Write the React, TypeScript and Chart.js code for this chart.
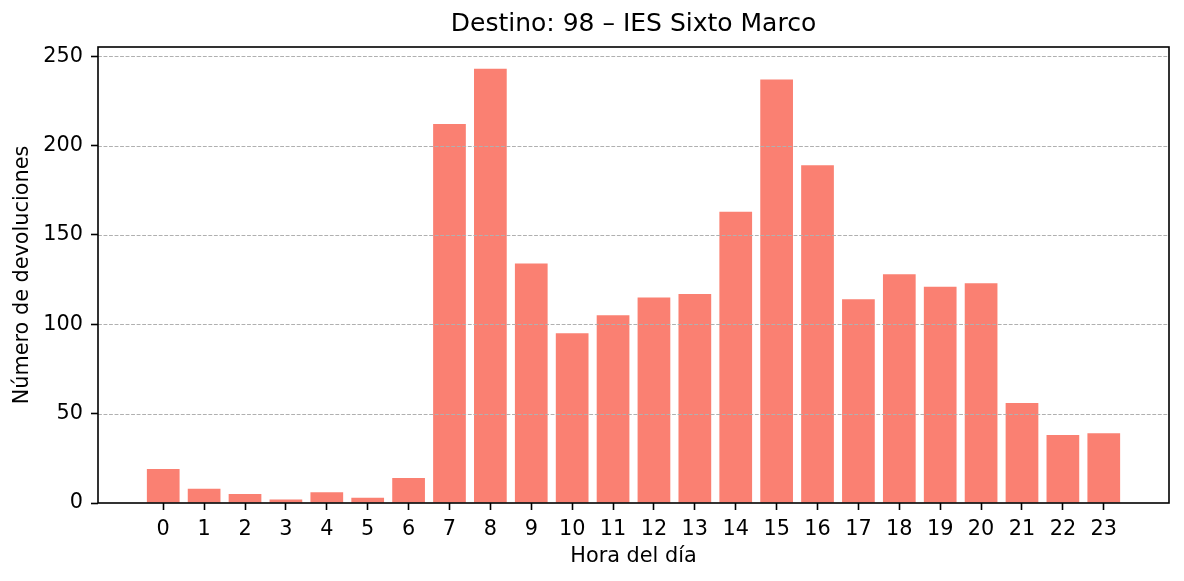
import React, { useEffect, useRef } from "react";
import { Chart, registerables } from "chart.js";

Chart.register(...registerables);

const hours: number[] = [0, 1, 2, 3, 4, 5, 6, 7, 8, 9, 10, 11, 12, 13, 14, 15, 16, 17, 18, 19, 20, 21, 22, 23];
const devoluciones: number[] = [19, 8, 5, 2, 6, 3, 14, 212, 243, 134, 95, 105, 115, 117, 163, 237, 189, 114, 128, 121, 123, 56, 38, 39];
const yTicks: number[] = [0, 50, 100, 150, 200, 250];
const titleText = "Destino: 98 \u2013 IES Sixto Marco";
const xLabel = "Hora del d\u00eda";
const yLabel = "N\u00famero de devoluciones";

const FONT = "'DejaVu Sans', sans-serif";

const overlayPlugin = {
  id: "mplOverlay",
  afterDatasetsDraw(chart: any) {
    const { ctx, chartArea, scales } = chart;
    const y = scales.y;
    ctx.save();
    ctx.beginPath();
    ctx.rect(chartArea.left, chartArea.top, chartArea.right - chartArea.left, chartArea.bottom - chartArea.top);
    ctx.clip();
    ctx.strokeStyle = "#b0b0b0";
    ctx.lineWidth = 1;
    ctx.setLineDash([3.85, 1.67]);
    for (const v of yTicks) {
      const py = Math.round(y.getPixelForValue(v)) + 0.5;
      ctx.beginPath();
      ctx.moveTo(chartArea.left, py);
      ctx.lineTo(chartArea.right, py);
      ctx.stroke();
    }
    ctx.restore();
    ctx.save();
    ctx.strokeStyle = "#000";
    ctx.lineWidth = 1.6;
    ctx.setLineDash([]);
    ctx.strokeRect(chartArea.left, chartArea.top, chartArea.right - chartArea.left, chartArea.bottom - chartArea.top);
    ctx.restore();
  },
  afterDraw(chart: any) {
    const { ctx, chartArea } = chart;
    ctx.save();
    ctx.fillStyle = "#000";
    ctx.font = `normal 25px ${FONT}`;
    ctx.textAlign = "center";
    ctx.textBaseline = "middle";
    ctx.fillText(titleText, (chartArea.left + chartArea.right) / 2, 24.5);
    ctx.restore();
  },
};

export default function App() {
  const ref = useRef<HTMLCanvasElement | null>(null);
  useEffect(() => {
    if (!ref.current) return;
    const chart = new Chart(ref.current, {
      type: "bar",
      data: {
        datasets: [
          {
            data: hours.map((h, i) => ({ x: h, y: devoluciones[i] })),
            backgroundColor: "#FA8072",
            borderWidth: 0,
            categoryPercentage: 1,
            barPercentage: 0.8,
          },
        ],
      },
      options: {
        responsive: false,
        animation: false,
        devicePixelRatio: 1,
        layout: { padding: { left: 0, right: 15, top: 47, bottom: 0 } },
        plugins: {
          legend: { display: false },
          tooltip: { enabled: false },
          title: { display: false },
        },
        scales: {
          x: {
            type: "linear",
            min: -1.595,
            max: 24.595,
            offset: false,
            afterBuildTicks: (axis: any) => {
              axis.ticks = hours.map((h) => ({ value: h }));
            },
            afterFit: (axis: any) => {
              axis.height = 78;
            },
            ticks: {
              color: "#000",
              font: { family: FONT, size: 20.8 },
              padding: 7,
              autoSkip: false,
              maxRotation: 0,
              callback: (v: any) => String(v),
            },
            grid: {
              display: true,
              offset: false,
              drawOnChartArea: false,
              drawTicks: true,
              tickLength: 7,
              tickWidth: 1.6,
              tickColor: "#000",
            },
            border: { display: false },
            title: {
              display: true,
              text: xLabel,
              color: "#000",
              font: { family: FONT, size: 20.8, lineHeight: 1.2 },
              padding: { top: 0, bottom: 12 },
            },
          },
          y: {
            type: "linear",
            min: 0,
            max: 255.15,
            afterBuildTicks: (axis: any) => {
              axis.ticks = yTicks.map((v) => ({ value: v }));
            },
            afterFit: (axis: any) => {
              axis.width = 98;
            },
            ticks: {
              color: "#000",
              font: { family: FONT, size: 20.8 },
              padding: 8,
              callback: (v: any) => String(v),
            },
            grid: {
              display: true,
              drawOnChartArea: false,
              drawTicks: true,
              tickLength: 7,
              tickWidth: 1.6,
              tickColor: "#000",
            },
            border: { display: false },
            title: {
              display: true,
              text: yLabel,
              color: "#000",
              font: { family: FONT, size: 20.8, lineHeight: 1.2 },
              padding: { top: 10, bottom: 0 },
            },
          },
        },
      },
      plugins: [overlayPlugin],
    });
    return () => chart.destroy();
  }, []);
  return (
    <div style={{ position: "absolute", left: 0, top: 0, width: 1184, height: 581, background: "#fff" }}>
      <canvas ref={ref} width={1184} height={581} style={{ display: "block", width: 1184, height: 581 }} />
    </div>
  );
}
